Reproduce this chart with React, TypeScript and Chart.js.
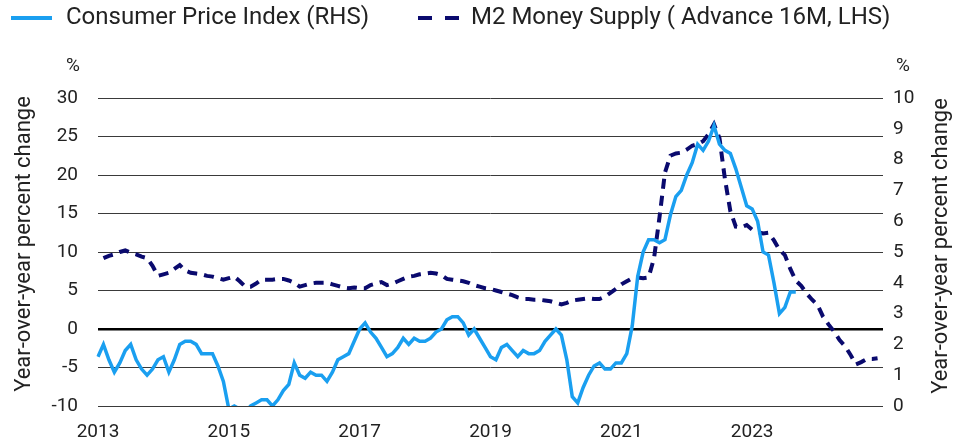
import React, { useEffect, useRef } from "react";
import { Chart, registerables } from "chart.js";

Chart.register(...registerables);

// ---- DATA ----
const startYear = 2013;
const monthCount = 145; // Jan 2013 .. Jan 2025
const xTickYears = ["2013", "2015", "2017", "2019", "2021", "2023"];

// US CPI YoY %, monthly from Jan 2013 (right axis)
const cpi = [
  1.6, 2.0, 1.5, 1.1, 1.4, 1.8, 2.0, 1.5, 1.2, 1.0, 1.2, 1.5,
  1.6, 1.1, 1.5, 2.0, 2.1, 2.1, 2.0, 1.7, 1.7, 1.7, 1.3, 0.8,
  -0.1, 0.0, -0.1, -0.2, 0.0, 0.1, 0.2, 0.2, 0.0, 0.2, 0.5, 0.7,
  1.4, 1.0, 0.9, 1.1, 1.0, 1.0, 0.8, 1.1, 1.5, 1.6, 1.7, 2.1,
  2.5, 2.7, 2.4, 2.2, 1.9, 1.6, 1.7, 1.9, 2.2, 2.0, 2.2, 2.1,
  2.1, 2.2, 2.4, 2.5, 2.8, 2.9, 2.9, 2.7, 2.3, 2.5, 2.2, 1.9,
  1.6, 1.5, 1.9, 2.0, 1.8, 1.6, 1.8, 1.7, 1.7, 1.8, 2.1, 2.3,
  2.5, 2.3, 1.5, 0.3, 0.1, 0.6, 1.0, 1.3, 1.4, 1.2, 1.2, 1.4,
  1.4, 1.7, 2.6, 4.2, 5.0, 5.4, 5.4, 5.3, 5.4, 6.2, 6.8, 7.0,
  7.5, 7.9, 8.5, 8.3, 8.6, 9.1, 8.5, 8.3, 8.2, 7.7, 7.1, 6.5,
  6.4, 6.0, 5.0, 4.9, 4.0, 3.0, 3.2, 3.7, 3.7,
];

// M2 money supply YoY %, advanced 16 months, monthly from Jan 2013 (left axis)
const m2 = [
  null,
  9.2, 9.5, 9.7, 10.0, 10.2, 9.9, 9.7, 9.4, 9.2, 8.2,
  6.9, 7.1, 7.3, 7.8, 8.3, 7.6, 7.3, 7.2, 7.1, 6.9,
  6.8, 6.6, 6.4, 6.6, 6.8, 6.2, 5.5, 5.5, 5.9, 6.4,
  6.4, 6.4, 6.5, 6.5, 6.3, 6.0, 5.5, 5.7, 5.9, 6.0,
  6.0, 6.0, 5.8, 5.6, 5.4, 5.3, 5.4, 5.3, 5.3, 5.7,
  5.9, 6.1, 5.7, 5.9, 6.2, 6.5, 6.8, 6.9, 7.1, 7.2,
  7.3, 7.2, 7.0, 6.5, 6.4, 6.3, 6.2, 6.0, 5.7, 5.5,
  5.3, 5.2, 5.0, 4.8, 4.6, 4.4, 4.1, 3.9, 3.9, 3.8,
  3.8, 3.7, 3.6, 3.4, 3.2, 3.4, 3.7, 3.8, 3.9, 4.0,
  3.9, 3.9, 4.2, 4.7, 5.2, 5.8, 6.2, 6.6, 6.7, 6.6,
  6.7, 9.2, 14.5, 20.3, 22.5, 22.8, 22.9, 23.3, 23.8, 24.0,
  24.4, 25.3, 26.6, 24.8, 19.5, 15.3, 13.3, 13.2, 13.5, 12.9,
  12.6, 12.4, 12.5, 11.5, 10.3, 9.6, 7.8, 6.3, 5.6, 4.6,
  3.8, 3.1, 1.6, 0.6, -0.3, -1.4, -2.2, -3.3, -4.6, -4.3,
  -3.9, -3.9, -3.8,
];

const seriesNames = ["Consumer Price Index (RHS)", "M2 Money Supply ( Advance 16M, LHS)"];
const axisTitle = "Year-over-year percent change";

const CPI_COLOR = "#1a9ff0";
const M2_COLOR = "#0a0a6e";
const FONT = "Roboto, 'Noto Sans', sans-serif";

const monthLabels = Array.from({ length: monthCount }, (_, i) => {
  const y = startYear + Math.floor(i / 12);
  const mo = (i % 12) + 1;
  return `${y}-${mo < 10 ? "0" + mo : mo}`;
});

const overlayPlugin = {
  id: "overlay",
  afterDraw(chart: any) {
    const ctx = chart.ctx as CanvasRenderingContext2D;
    ctx.save();
    // Legend
    ctx.font = `24px ${FONT}`;
    ctx.fillStyle = "#222";
    ctx.textBaseline = "middle";
    ctx.textAlign = "left";
    const ly = 18;
    ctx.lineWidth = 4;
    ctx.strokeStyle = CPI_COLOR;
    ctx.beginPath();
    ctx.moveTo(11, ly);
    ctx.lineTo(52, ly);
    ctx.stroke();
    ctx.fillText(seriesNames[0], 66, ly);
    ctx.strokeStyle = M2_COLOR;
    ctx.setLineDash([14, 13]);
    ctx.beginPath();
    ctx.moveTo(418, ly);
    ctx.lineTo(460, ly);
    ctx.stroke();
    ctx.setLineDash([]);
    ctx.fillText(seriesNames[1], 471, ly);

    // % labels
    ctx.font = `19px ${FONT}`;
    ctx.textAlign = "center";
    ctx.fillText("%", 73, 66);
    ctx.fillText("%", 903, 66);

    // axis titles
    ctx.font = `22px ${FONT}`;
    ctx.save();
    ctx.translate(24, 244);
    ctx.rotate(-Math.PI / 2);
    ctx.fillText(axisTitle, 0, 0);
    ctx.restore();
    ctx.save();
    ctx.translate(941, 246);
    ctx.rotate(-Math.PI / 2);
    ctx.fillText(axisTitle, 0, 0);
    ctx.restore();
    ctx.restore();
  },
};

export default function App() {
  const ref = useRef<HTMLCanvasElement | null>(null);
  useEffect(() => {
    document.body.style.margin = "0";
    const canvas = ref.current!;
    const chart = new Chart(canvas, {
      type: "line",
      data: {
        labels: monthLabels,
        datasets: [
          {
            label: seriesNames[0],
            data: cpi,
            yAxisID: "y1",
            borderColor: CPI_COLOR,
            borderWidth: 3.5,
            pointRadius: 0,
            tension: 0,
            fill: false,
          },
          {
            label: seriesNames[1],
            data: m2 as any,
            yAxisID: "y",
            borderColor: M2_COLOR,
            borderWidth: 4,
            borderDash: [10, 7],
            pointRadius: 0,
            tension: 0,
            fill: false,
          },
        ],
      },
      options: {
        animation: false,
        responsive: false,
        maintainAspectRatio: false,
        layout: { padding: { top: 98, left: 0, right: 0, bottom: 0 } },
        plugins: { legend: { display: false }, tooltip: { enabled: false } },
        scales: {
          x: {
            type: "category",
            offset: false,
            grid: { display: false, drawTicks: false },
            border: { display: false },
            ticks: {
              autoSkip: false,
              maxRotation: 0,
              padding: 15,
              color: "#222",
              font: { family: FONT, size: 19 },
              callback: (_v: any, i: number) => {
                if (i % 24 !== 0) return "";
                const lbl = monthLabels[i].slice(0, 4);
                return xTickYears.includes(lbl) ? lbl : "";
              },
            },
            afterFit: (s: any) => {
              s.height = 39;
            },
          },
          y: {
            position: "left",
            min: -10,
            max: 30,
            grid: {
              drawTicks: false,
              color: (c: any) => (c.tick && c.tick.value === 0 ? "#000" : "#3a3a3a"),
              lineWidth: (c: any) => (c.tick && c.tick.value === 0 ? 2.5 : 1),
            },
            border: { display: false },
            ticks: {
              stepSize: 5,
              padding: 20,
              color: "#222",
              font: { family: FONT, size: 19 },
            },
            afterFit: (s: any) => {
              s.width = 98;
            },
          },
          y1: {
            position: "right",
            min: 0,
            max: 10,
            grid: { display: false, drawTicks: false },
            border: { display: false },
            ticks: {
              stepSize: 1,
              padding: 10,
              color: "#222",
              font: { family: FONT, size: 19 },
            },
            afterFit: (s: any) => {
              s.width = 83;
            },
          },
        },
      },
      plugins: [overlayPlugin],
    });
    return () => chart.destroy();
  }, []);
  return (
    <div style={{ position: "fixed", left: 0, top: 0, width: 966, height: 445 }}>
      <canvas ref={ref} width={966} height={445} style={{ width: 966, height: 445 }} />
    </div>
  );
}
